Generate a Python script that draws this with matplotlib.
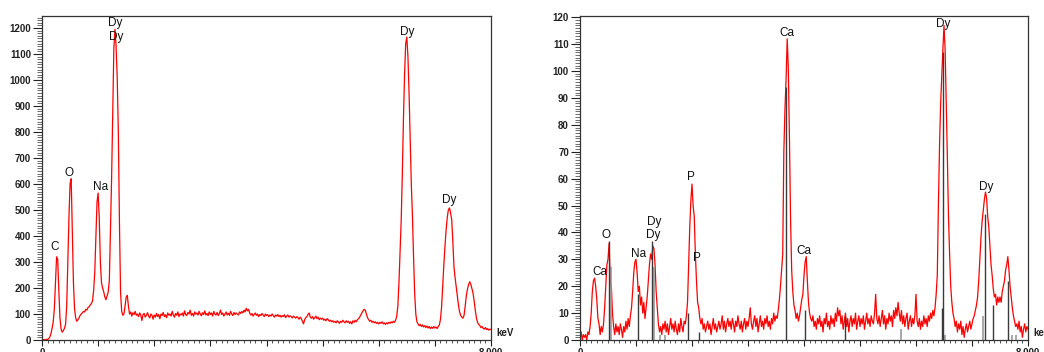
import numpy as np
import matplotlib
matplotlib.use("Agg")
import matplotlib.pyplot as plt
from matplotlib.ticker import MultipleLocator, FuncFormatter

plt.rcParams['font.family'] = ['Liberation Sans', 'DejaVu Sans']

# EDS spectra, one count value every 0.02 keV from 0 to 8 keV
step_kev = 0.02

left_counts = [
    0, 2, 1, 0, 3, 2, 5, 12, 25, 45, 70, 120, 220, 320, 310, 190, 85, 42, 30, 36, 45, 60, 130, 300, 470,
    600, 620, 420, 220, 120, 85, 72, 78, 85, 95, 100, 105, 110, 108, 118, 115, 125, 128, 135, 140, 150, 190, 260, 400, 530,
    565, 470, 300, 220, 200, 185, 165, 155, 170, 185, 230, 420, 620, 880, 1120, 1195, 1130, 1010, 800, 450, 180, 110, 95, 100, 130,
    165, 172, 130, 100, 108, 92, 105, 98, 110, 95, 100, 90, 104, 96, 75, 98, 102, 88, 95, 105, 92, 85, 100, 95, 80,
    96, 88, 102, 90, 98, 82, 100, 94, 106, 90, 97, 86, 104, 95, 100, 92, 110, 96, 88, 102, 95, 108, 90, 100, 96,
    104, 92, 112, 98, 94, 106, 100, 115, 95, 102, 92, 108, 99, 104, 96, 110, 100, 93, 105, 98, 112, 96, 102, 94, 108,
    98, 104, 92, 110, 100, 96, 106, 94, 102, 115, 98, 104, 92, 100, 108, 96, 103, 95, 110, 100, 94, 106, 98, 104, 100,
    96, 108, 102, 110, 104, 115, 108, 122, 112, 118, 104, 96, 102, 92, 98, 104, 95, 100, 90, 98, 94, 102, 96, 90, 100,
    94, 98, 90, 96, 92, 100, 94, 88, 96, 92, 98, 90, 95, 88, 94, 90, 97, 86, 92, 96, 88, 93, 90, 85, 92,
    88, 84, 90, 86, 80, 88, 82, 72, 62, 78, 86, 90, 98, 104, 88, 84, 90, 80, 86, 92, 82, 88, 78, 84, 80,
    84, 76, 80, 74, 82, 78, 72, 76, 70, 74, 68, 72, 66, 74, 70, 64, 72, 68, 76, 70, 66, 74, 68, 72, 64,
    70, 62, 74, 68, 76, 70, 78, 82, 88, 96, 105, 112, 118, 114, 100, 86, 78, 72, 76, 68, 72, 66, 70, 64, 68,
    62, 68, 64, 70, 62, 66, 60, 66, 62, 68, 64, 70, 66, 72, 68, 76, 90, 130, 220, 340, 460, 640, 850, 1020, 1140,
    1165, 1090, 950, 780, 600, 480, 320, 180, 100, 70, 62, 55, 60, 52, 58, 50, 55, 48, 54, 46, 52, 44, 50, 45, 52,
    46, 50, 44, 52, 58, 80, 128, 210, 290, 360, 423, 470, 500, 508, 490, 462, 380, 282, 240, 205, 170, 135, 108, 95, 88,
    84, 95, 130, 170, 195, 212, 224, 215, 198, 180, 150, 115, 85, 68, 60, 56, 48, 52, 45, 42, 48, 40, 44, 38, 42,
    40,
]

right_counts = [
    1, 3, 0, 2, 1, 2, 0, 3, 2, 5, 10, 18, 22, 23, 20, 15, 8, 6, 2, 5, 3, 6, 12, 20, 28,
    30, 36, 22, 20, 10, 5, 2, 6, 3, 5, 2, 6, 4, 1, 5, 3, 7, 4, 8, 5, 9, 12, 18, 25, 29,
    30, 25, 18, 20, 13, 16, 10, 14, 8, 12, 16, 22, 28, 32, 30, 35, 34, 28, 18, 12, 6, 3, 5, 2, 6,
    4, 7, 3, 6, 2, 5, 8, 4, 6, 3, 7, 4, 2, 6, 3, 8, 5, 3, 7, 6, 9, 14, 28, 42, 52,
    58, 50, 46, 32, 22, 14, 12, 8, 6, 8, 4, 6, 3, 5, 7, 4, 6, 2, 5, 8, 4, 6, 3, 5, 7,
    4, 6, 9, 4, 7, 3, 6, 8, 5, 7, 4, 8, 6, 3, 7, 5, 9, 6, 4, 7, 3, 6, 8, 4, 7,
    5, 8, 12, 6, 4, 7, 9, 5, 8, 3, 6, 9, 5, 7, 4, 8, 6, 9, 5, 7, 4, 8, 6, 10, 7,
    9, 8, 11, 15, 20, 26, 32, 70, 86, 97, 112, 101, 75, 45, 26, 18, 13, 11, 8, 10, 7, 9, 12, 15, 17,
    24, 29, 31, 22, 14, 10, 8, 7, 9, 5, 7, 4, 8, 6, 9, 5, 7, 3, 8, 6, 10, 5, 7, 4, 9,
    6, 8, 5, 10, 7, 12, 9, 11, 6, 9, 4, 7, 10, 5, 8, 3, 7, 9, 5, 8, 6, 10, 4, 7, 9,
    5, 8, 6, 9, 4, 7, 10, 6, 8, 5, 9, 7, 6, 10, 17, 8, 6, 9, 5, 8, 11, 6, 9, 4, 8,
    6, 10, 7, 9, 5, 11, 8, 12, 9, 14, 10, 7, 11, 6, 9, 5, 8, 10, 4, 7, 9, 5, 8, 6, 9,
    17, 7, 5, 8, 4, 7, 5, 9, 6, 8, 5, 9, 7, 10, 8, 11, 9, 12, 17, 24, 50, 72, 88, 98, 108,
    117, 108, 88, 68, 46, 32, 20, 14, 10, 8, 5, 7, 3, 6, 4, 7, 2, 5, 1, 4, 6, 3, 5, 7, 4,
    6, 8, 9, 11, 13, 16, 22, 30, 38, 44, 48, 52, 55, 53, 46, 42, 35, 28, 24, 19, 16, 17, 13, 16, 14,
    16, 14, 18, 20, 22, 26, 28, 31, 26, 20, 16, 12, 9, 7, 5, 6, 4, 7, 3, 5, 1, 4, 6, 3, 5,
    4,
]

# peak labels (element, keV, counts where the label sits)
left_labels = ['C', 'O', 'Na', 'Dy', 'Dy', 'Dy', 'Dy']
left_label_kev = [0.23, 0.48, 1.04, 1.30, 1.32, 6.50, 7.25]
left_label_counts = [356, 643, 590, 1218, 1167, 1186, 538]

right_labels = ['Ca', 'O', 'Na', 'Dy', 'Dy', 'P', 'P', 'Ca', 'Ca', 'Dy', 'Dy']
right_label_kev = [0.36, 0.47, 1.04, 1.33, 1.30, 1.98, 2.09, 3.69, 4.00, 6.49, 7.25]
right_label_counts = [25.4, 39, 31.9, 44, 39, 60.5, 30.4, 114, 33, 117.7, 57]

# KLM marker lines on the second spectrum
right_lines_kev = [0.52, 1.04, 1.29, 1.93, 2.13, 3.68, 4.01, 4.74, 6.46, 6.49, 7.24, 7.37, 7.64]
right_lines_counts = [37, 17, 37, 10, 3, 94, 11, 9, 12, 107, 47, 13, 22]
right_faint_kev = [0.55, 1.32, 1.42, 1.51, 5.73, 6.52, 7.19, 7.72, 7.79]
right_faint_counts = [27, 27, 2, 2, 4, 2, 9, 2, 2]

W, H = 1044, 352
fig = plt.figure(figsize=(W / 100, H / 100), dpi=100)


def end_labels(v, pos):
    if abs(v) < 1e-9:
        return '0'
    if abs(v - 8) < 1e-9:
        return '8.000'
    return ''


def setup(ax, ymax, ymajor, yminor):
    ax.set_xlim(0, 8)
    ax.set_ylim(0, ymax)
    ax.xaxis.set_major_locator(MultipleLocator(1))
    ax.xaxis.set_minor_locator(MultipleLocator(0.1))
    ax.xaxis.set_major_formatter(FuncFormatter(end_labels))
    ax.yaxis.set_major_locator(MultipleLocator(ymajor))
    ax.yaxis.set_minor_locator(MultipleLocator(yminor))
    ax.tick_params(axis='y', which='major', direction='out', length=6.5, width=0.8,
                   pad=1.5, labelsize=7, colors='#222222')
    ax.tick_params(axis='y', which='minor', direction='out', length=3.3, width=0.6, colors='#555555')
    ax.tick_params(axis='x', which='major', direction='out', length=4.3, width=0.8,
                   pad=1.5, labelsize=7, colors='#222222')
    ax.tick_params(axis='x', which='minor', direction='out', length=2.2, width=0.6, colors='#333333')
    for lab in ax.get_xticklabels() + ax.get_yticklabels():
        lab.set_fontweight('bold')
    for s in ax.spines.values():
        s.set_color('#333333')
        s.set_linewidth(0.9)
    ax.text(1.011, 0.021, 'keV', transform=ax.transAxes, ha='left', va='center',
            fontsize=7, fontweight='bold', color='#222222', clip_on=False)


# left spectrum
ax1 = fig.add_axes([42 / W, 12 / H, 449 / W, 324 / H])
e1 = np.arange(len(left_counts)) * step_kev
ax1.plot(e1, left_counts, color='#ff0000', lw=0.9)
setup(ax1, 1246, 100, 10)
for lab, x, y in zip(left_labels, left_label_kev, left_label_counts):
    ax1.text(x, y, lab, ha='center', va='center', fontsize=8.5, color='#111111')

# right spectrum
ax2 = fig.add_axes([580 / W, 12 / H, 448 / W, 324 / H])
e2 = np.arange(len(right_counts)) * step_kev
ax2.plot(e2, right_counts, color='#ff0000', lw=0.9, zorder=2)
ax2.vlines(right_faint_kev, 0, right_faint_counts, color='#9a9a9a', lw=1.2, zorder=3)
ax2.vlines(right_lines_kev, 0, right_lines_counts, color='#3a3a3a', lw=1.0, zorder=3)
setup(ax2, 120.5, 10, 1)
for lab, x, y in zip(right_labels, right_label_kev, right_label_counts):
    ax2.text(x, y, lab, ha='center', va='center', fontsize=8.5, color='#111111')

fig.savefig('out.png', dpi=100)
